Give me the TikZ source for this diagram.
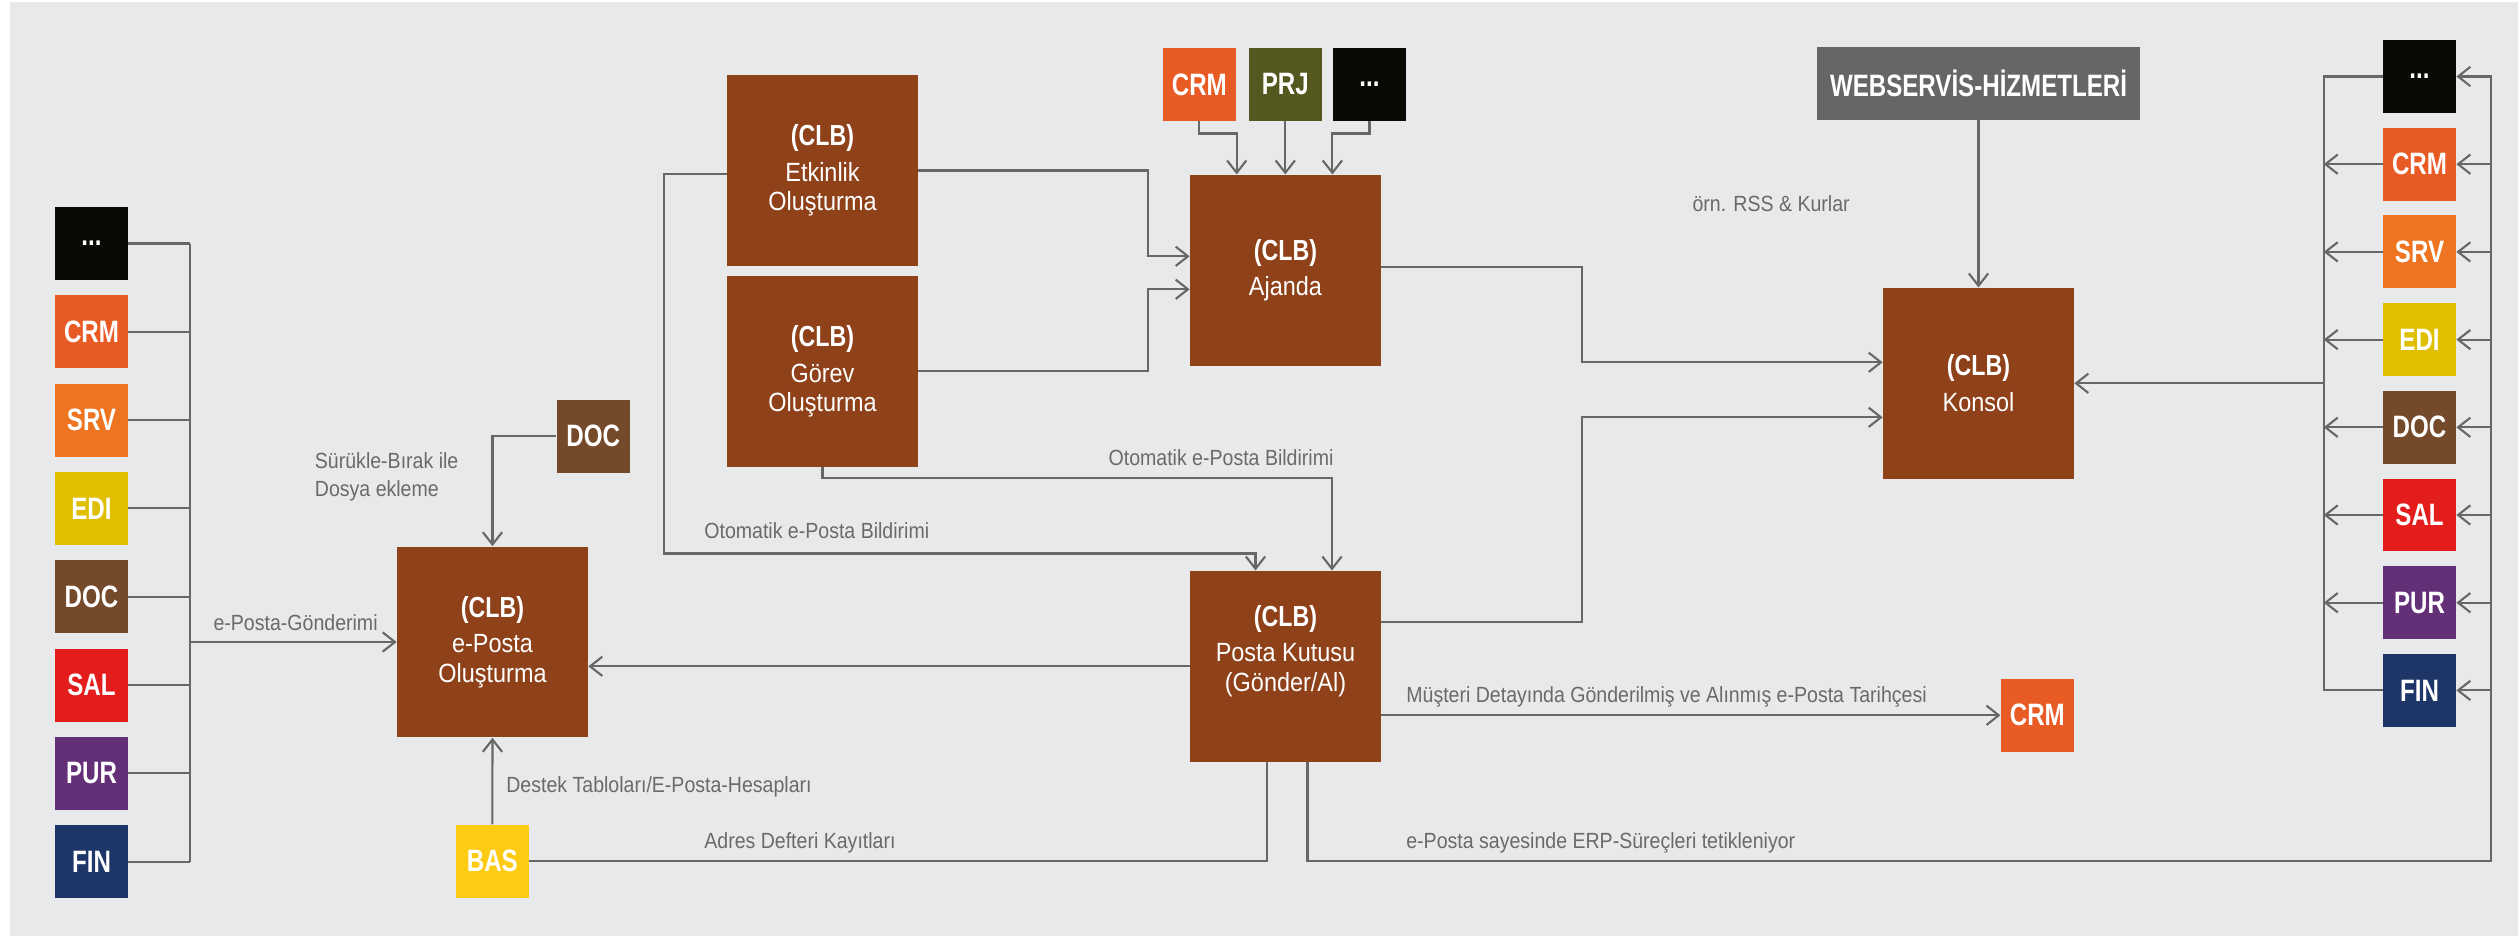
\documentclass[tikz,border=0pt]{standalone}
\usepackage{fontspec}
\setmainfont{Liberation Sans}
\newfontfamily\labf[FakeStretch=0.89]{Liberation Sans}
\newfontfamily\tagf[FakeStretch=0.78]{Liberation Sans}
\newfontfamily\clbf[FakeStretch=0.80]{Liberation Sans}
\usetikzlibrary{arrows.meta,calc}
\definecolor{bgc}{HTML}{E8E9EB}
\definecolor{linegray}{HTML}{676767}
\definecolor{labgray}{HTML}{6A6A6A}
\definecolor{clbbrown}{HTML}{8F4219}
\definecolor{ccrm}{HTML}{E95B24}
\definecolor{csrv}{HTML}{ED7522}
\definecolor{cedi}{HTML}{DFBF00}
\definecolor{cdoc}{HTML}{754A2B}
\definecolor{csal}{HTML}{E31D1C}
\definecolor{cpur}{HTML}{633078}
\definecolor{cfin}{HTML}{1E3567}
\definecolor{cblack}{HTML}{0B0904}
\definecolor{cprj}{HTML}{54581E}
\definecolor{cbas}{HTML}{FECB14}
\definecolor{cweb}{HTML}{666666}
\newcommand{\clbline}{{\clbf\bfseries\fontsize{16.5}{16.7}\selectfont (CLB)}}
\tikzset{
  tagbox/.style={fill=#1, minimum width=1.46cm, minimum height=1.46cm, inner sep=0pt,
    text=white, font=\tagf\bfseries\fontsize{17.6}{20}\selectfont},
  clbbox/.style={fill=clbbrown, minimum width=3.82cm, minimum height=3.82cm, inner sep=0pt,
    text=white, align=center, font=\labf\fontsize{15}{16.7}\selectfont},
  lbl/.style={text=labgray, inner sep=0pt, font=\labf\fontsize{12.5}{16}\selectfont},
  conn/.style={draw=linegray, line width=1.2pt},
  arr/.style={conn, -{Straight Barb[length=7pt,width=11pt]}}
}
\begin{document}
\begin{tikzpicture}[x=0.02cm,y=-0.02cm]
\useasboundingbox (0,0) rectangle (2518,936);
\fill[white] (0,0) rectangle (2518,936);
\fill[bgc] (10,2) rectangle (2518,936);

% left column
\node[tagbox=cblack] (L0) at (91.5,243.5) {...};
\node[tagbox=ccrm] (L1) at (91.5,331.8) {CRM};
\node[tagbox=csrv] (L2) at (91.5,420.1) {SRV};
\node[tagbox=cedi] (L3) at (91.5,508.4) {EDI};
\node[tagbox=cdoc] (L4) at (91.5,596.7) {DOC};
\node[tagbox=csal] (L5) at (91.5,685.0) {SAL};
\node[tagbox=cpur] (L6) at (91.5,773.3) {PUR};
\node[tagbox=cfin] (L7) at (91.5,861.6) {FIN};

% right column
\node[tagbox=cblack] (R0) at (2419.5,76.5) {...};
\node[tagbox=ccrm] (R1) at (2419.5,164.2) {CRM};
\node[tagbox=csrv] (R2) at (2419.5,251.9) {SRV};
\node[tagbox=cedi] (R3) at (2419.5,339.6) {EDI};
\node[tagbox=cdoc] (R4) at (2419.5,427.3) {DOC};
\node[tagbox=csal] (R5) at (2419.5,515.0) {SAL};
\node[tagbox=cpur] (R6) at (2419.5,602.7) {PUR};
\node[tagbox=cfin] (R7) at (2419.5,690.4) {FIN};

% CLB boxes
\node[clbbox] (ep) at (492.5,642) {\clbline\\[3.7pt]e-Posta\\Oluşturma};
\node[clbbox] (etk) at (822.5,170.5) {\clbline\\[3.7pt]Etkinlik\\Oluşturma};
\node[clbbox] (gor) at (822.5,371.4) {\clbline\\[3.7pt]Görev\\Oluşturma};
\node[clbbox] (aj) at (1285.5,270.3) {\clbline\\[3.7pt]Ajanda};
\node[clbbox] (ks) at (1978.5,383.3) {\clbline\\[3.7pt]Konsol};
\node[clbbox] (pk) at (1285.5,666.3) {\clbline\\[3.7pt]Posta Kutusu\\(Gönder/Al)\\[4pt]\mbox{}};

% small boxes
\node[tagbox=ccrm] (tcrm) at (1199.3,84.4) {CRM};
\node[tagbox=cprj] (tprj) at (1285.3,84.4) {PRJ};
\node[tagbox=cblack] (tdot) at (1369.5,84.4) {...};
\node[tagbox=cweb, minimum width=6.46cm, minimum height=1.455cm] (web) at (1978.5,83.4) {WEBSERVİS-HİZMETLERİ};
\node[tagbox=cdoc] (sdoc) at (593.2,436.3) {DOC};
\node[tagbox=cbas] (bas) at (492.3,861.2) {BAS};
\node[tagbox=ccrm] (rcrm) at (2037.3,715.3) {CRM};

% bus coordinates
\coordinate (lb) at (190,0);
\coordinate (ib) at (2323.7,0);
\coordinate (ob) at (2490.7,860.7);

% left bus
\foreach \i in {0,...,7} { \draw[conn] (L\i.east) -- (L\i.east -| lb); }
\draw[conn] (L0.east -| lb) -- (L7.east -| lb);
\draw[arr] (ep.west -| lb) -- (ep.west);

% DOC and BAS to e-Posta
\draw[arr] (sdoc.west) -| (ep.north);
\draw[arr] (bas.north) -- (ep.south);
\draw[conn] (bas.east) -| ($(pk.south)+(-18.8,0)$);

% Posta -> e-Posta
\draw[arr] (pk.west) -- (ep.east |- pk.west);

% Etkinlik / Gorev -> Posta
\draw[arr] ($(etk.west)+(0,3.5)$) -- ++(-63,0) |- ($(pk.north)+(-30,-17)$) -- ($(pk.north)+(-30,0)$);
\draw[arr] (gor.south) -- ++(0,10.8) -| ($(pk.north)+(46.5,0)$);

% Etkinlik / Gorev -> Ajanda
\draw[arr] (etk.east) -- ++(230,0) |- ($(aj.west)+(0,-14)$);
\draw[arr] (gor.east) -- ++(230,0) |- ($(aj.west)+(0,19)$);

% top small -> Ajanda
\draw[arr] (tcrm.south) -- ++(0,12.3) -| ($(aj.north)+(-48.8,0)$);
\draw[arr] (tprj.south) -- (aj.north -| tprj.south);
\draw[arr] (tdot.south) -- ++(0,12.3) -| ($(aj.north)+(46.9,0)$);

% -> Konsol
\draw[arr] ($(aj.east)+(0,-3.6)$) -- ++(201,0) |- ($(ks.west)+(0,-21)$);
\draw[arr] ($(pk.east)+(0,-44)$) -- ++(201,0) |- ($(ks.west)+(0,34)$);
\draw[arr] (web.south) -- (ks.north);

% Posta -> CRM
\draw[arr] (rcrm.west -| pk.east) -- (rcrm.west);

% Posta -> outer bus -> right boxes
\draw[arr] ($(pk.south)+(22,0)$) |- (ob) -- (R0.east -| ob) -- (R0.east);
\foreach \i in {1,...,7} { \draw[arr] (R\i.east -| ob) -- (R\i.east); }

% right boxes -> inner bus -> Konsol
\draw[conn] (R0.west) -- (R0.west -| ib) -- (R7.west -| ib) -- (R7.west);
\foreach \i in {1,...,6} { \draw[arr] (R\i.west) -- (R\i.west -| ib); }
\draw[arr] (ks.east -| ib) -- (ks.east);

% labels
\node[lbl, anchor=base] (t1) at (295.6,630) {e-Posta-Gönderimi};
\node[lbl, anchor=north west, align=left] (t2) at (314.6,452) {Sürükle-Bırak ile\\Dosya ekleme};
\node[lbl, anchor=base west] (t3) at (506,792) {Destek Tabloları/E-Posta-Hesapları};
\node[lbl, anchor=base west] (t4) at (704,538) {Otomatik e-Posta Bildirimi};
\node[lbl, anchor=base east] (t5) at (1333.8,465) {Otomatik e-Posta Bildirimi};
\node[lbl, anchor=base west] (t6) at (704,848) {Adres Defteri Kayıtları};
\node[lbl, anchor=base east] (t7) at (1850,211.7) {örn. RSS \& Kurlar};
\node[lbl, anchor=base west] (t8) at (1406,702.7) {Müşteri Detayında Gönderilmiş ve Alınmış e-Posta Tarihçesi};
\node[lbl, anchor=base west] (t9) at (1406,848.3) {e-Posta sayesinde ERP-Süreçleri tetikleniyor};
\end{tikzpicture}
\end{document}
